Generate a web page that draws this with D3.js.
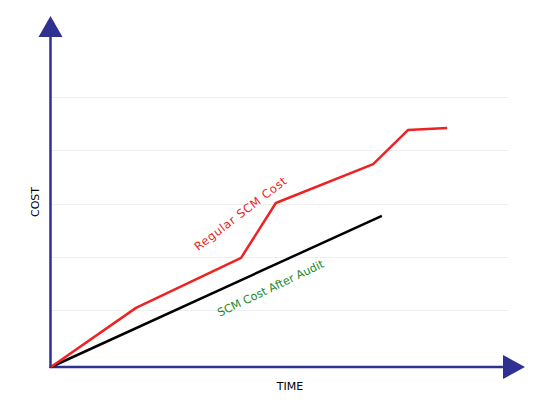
<!DOCTYPE html>
<html><head><meta charset="utf-8">
<script src="https://cdn.jsdelivr.net/npm/d3@7"></script>
<style>body{margin:0;background:#fff}</style>
</head><body>
<svg id="c" width="550" height="400"></svg>
<script>
const regularX = [0, 18.6, 41.6, 49.2, 70.5, 78.1, 86.7];
const regularY = [0, 1.11, 2.05, 3.08, 3.81, 4.45, 4.49];
const auditX = [0, 72.4];
const auditY = [0, 2.84];
const gridTicks = [1.07, 2.07, 3.07, 4.07, 5.07];

const svg = d3.select("#c");
const x = d3.scaleLinear().domain([0, 100]).range([51, 508]);
const y = d3.scaleLinear().domain([0, 6]).range([367, 47.5]);
const axisColor = "#2e3192";

// gridlines
svg.append("g").selectAll("line").data(gridTicks).join("line")
  .attr("x1", x(0)).attr("x2", x(100))
  .attr("y1", d => Math.round(y(d)) + 0.5).attr("y2", d => Math.round(y(d)) + 0.5)
  .attr("stroke", "#efefef").attr("stroke-width", 1);

// axes
svg.append("line").attr("x1", x(0) - 0.5).attr("x2", x(0) - 0.5).attr("y1", y(0) + 1).attr("y2", 36)
  .attr("stroke", axisColor).attr("stroke-width", 2.5);
svg.append("line").attr("x1", x(0) - 1.5).attr("x2", 505).attr("y1", y(0)).attr("y2", y(0))
  .attr("stroke", axisColor).attr("stroke-width", 2.5);
svg.append("path").attr("d", `M${x(0)-12.5},37 L${x(0)-0.5},16 L${x(0)+11.5},37 Z`).attr("fill", axisColor);
svg.append("path").attr("d", `M503,${y(0)-12} L525,${y(0)} L503,${y(0)+12} Z`).attr("fill", axisColor);

const line = d3.line().x(d => x(d[0])).y(d => y(d[1]));
svg.append("path").datum(auditX.map((v, i) => [v, auditY[i]]))
  .attr("d", line).attr("fill", "none").attr("stroke", "#000").attr("stroke-width", 2.5);
svg.append("path").datum(regularX.map((v, i) => [v, regularY[i]]))
  .attr("d", line).attr("fill", "none").attr("stroke", "#ee2222").attr("stroke-width", 2.5)
  .attr("stroke-linejoin", "round");

const font = "DejaVu Sans, Verdana, sans-serif";
svg.append("text").attr("transform", "translate(241,214) rotate(-37.5)")
  .attr("text-anchor", "middle").attr("dominant-baseline", "middle")
  .attr("font-family", font).attr("font-size", 11.5).attr("fill", "#ee2222").attr("letter-spacing", 0.7)
  .text("Regular SCM Cost");
svg.append("text").attr("transform", "translate(271,289) rotate(-25.5)")
  .attr("text-anchor", "middle").attr("dominant-baseline", "middle")
  .attr("font-family", font).attr("font-size", 11.2).attr("fill", "#1a8a2a")
  .text("SCM Cost After Audit");
svg.append("text").attr("transform", "translate(36,202) rotate(-90)")
  .attr("text-anchor", "middle").attr("dominant-baseline", "middle")
  .attr("font-family", font).attr("font-size", 11).attr("fill", "#000")
  .text("COST");
svg.append("text").attr("x", 290).attr("y", 386.5)
  .attr("text-anchor", "middle").attr("dominant-baseline", "middle")
  .attr("font-family", font).attr("font-size", 11).attr("fill", "#000")
  .text("TIME");
</script>
</body></html>
